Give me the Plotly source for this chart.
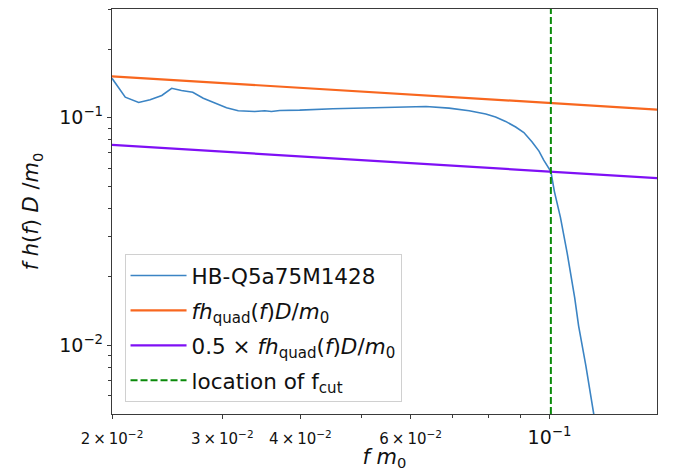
import math
import plotly.graph_objects as go

# Waveform amplitude spectrum, f*h(f)*D/m0 vs f*m0
f_wave = [0.0200, 0.0210, 0.02206, 0.02301, 0.02402, 0.02491, 0.02582, 0.02692,
          0.02798, 0.02921, 0.03048, 0.03182, 0.03381, 0.03508, 0.03595, 0.03707,
          0.03989, 0.04508, 0.05093, 0.05754, 0.0635, 0.0691, 0.0744, 0.0791,
          0.0820, 0.0851, 0.0883, 0.0910, 0.0938, 0.0962, 0.0979, 0.1005,
          0.1018, 0.1041, 0.1067, 0.1097, 0.1113, 0.1143, 0.1175, 0.1200]
h_wave = [0.1489, 0.1230, 0.1166, 0.1199, 0.1252, 0.1346, 0.1316, 0.1293,
          0.1218, 0.1158, 0.1106, 0.1073, 0.1065, 0.1073, 0.1065, 0.1076,
          0.1079, 0.1095, 0.1106, 0.1118, 0.1120, 0.1101, 0.1073, 0.1037,
          0.1006, 0.0963, 0.0910, 0.0860, 0.0782, 0.0713, 0.0651, 0.0580,
          0.0475, 0.0365, 0.0255, 0.0162, 0.0122, 0.00815, 0.0051, 0.0036]

# Quadrupole power law (straight line in log-log), and half of it
f_quad = [0.0200, 0.1500]
h_quad = [0.1518, 0.1084]
h_quad_half = [0.0759, 0.0542]

# Cut-off frequency
f_cut = [0.1005, 0.1005]
cut_span = [0.005, 0.3]

x_range = [0.02, 0.1485]
y_range = [0.005, 0.3]

x_major = [0.02, 0.03, 0.04, 0.06, 0.1]
x_major_text = [
    '<span style="font-size:15px">2\u2009×\u200910<sup>−2</sup></span>',
    '<span style="font-size:15px">3\u2009×\u200910<sup>−2</sup></span>',
    '<span style="font-size:15px">4\u2009×\u200910<sup>−2</sup></span>',
    '<span style="font-size:15px">6\u2009×\u200910<sup>−2</sup></span>',
    '10<sup>−1</sup>',
]
x_minor = [0.05, 0.07, 0.08, 0.09]
y_major = [0.01, 0.1]
y_major_text = ['10<sup>−2</sup>', '10<sup>−1</sup>']
y_minor = [0.006, 0.007, 0.008, 0.009, 0.02, 0.03, 0.04, 0.05, 0.06, 0.07,
           0.08, 0.09, 0.2, 0.3]

fig = go.Figure()
fig.add_trace(go.Scatter(
    x=f_wave, y=h_wave, mode="lines", name="HB-Q5a75M1428",
    line=dict(color="#3b84c4", width=1.6), legendgroup="a"))
fig.add_trace(go.Scatter(
    x=f_quad, y=h_quad, mode="lines",
    name="<i>fh</i><sub>quad</sub>(<i>f</i>)<i>D</i>/<i>m</i><sub>0</sub>",
    line=dict(color="#f8671f", width=2.2), legendgroup="b"))
fig.add_trace(go.Scatter(
    x=f_quad, y=h_quad_half, mode="lines",
    name="0.5 × <i>fh</i><sub>quad</sub>(<i>f</i>)<i>D</i>/<i>m</i><sub>0</sub>",
    line=dict(color="#7f10f5", width=2.2), legendgroup="c"))
fig.add_trace(go.Scatter(
    x=f_cut, y=cut_span, mode="lines", name="location of f<sub>cut</sub>",
    line=dict(color="#0a8a0a", width=2, dash="7px,3px"), legendgroup="d"))

axis_common = dict(
    type="log", showgrid=False, zeroline=False, automargin=False,
    showline=True, linecolor="#3a3a3a", linewidth=1.3, mirror=True,
    ticks="outside", ticklen=4, tickwidth=1, tickcolor="#3a3a3a",
    tickfont=dict(family="DejaVu Sans", size=19, color="#111"),
)

fig.update_xaxes(
    **axis_common,
    range=[math.log10(x_range[0]), math.log10(x_range[1])],
    tickmode="array", tickvals=x_major, ticktext=x_major_text,
    ticklabelstandoff=2,
    minor=dict(tickmode="array", tickvals=x_minor, ticks="outside",
               ticklen=2.5, tickcolor="#3a3a3a"),
    title=dict(text="<i>f m</i><sub>0</sub>", standoff=4,
               font=dict(family="DejaVu Sans", size=21, color="#111")),
)
fig.update_yaxes(
    **axis_common,
    range=[math.log10(y_range[0]), math.log10(y_range[1])],
    tickmode="array", tickvals=y_major, ticktext=y_major_text,
    minor=dict(tickmode="array", tickvals=y_minor, ticks="outside",
               ticklen=2.5, tickcolor="#3a3a3a"),
    title=dict(text="<i>f h</i>(<i>f</i>) <i>D</i> /<i>m</i><sub>0</sub>",
               standoff=14,
               font=dict(family="DejaVu Sans", size=21, color="#111")),
)

fig.update_layout(
    width=678, height=471,
    margin=dict(l=112, r=21, t=9, b=57),
    paper_bgcolor="white", plot_bgcolor="white",
    font=dict(family="DejaVu Sans", color="#111"),
    legend=dict(
        x=0.023, y=0.395, xanchor="left", yanchor="top",
        bgcolor="rgba(255,255,255,0.85)", bordercolor="#d0d0d0", borderwidth=1,
        font=dict(family="DejaVu Sans", size=21.5, color="#111"),
        tracegroupgap=4, itemwidth=56,
    ),
    showlegend=True,
)

fig.write_html("out.html")
